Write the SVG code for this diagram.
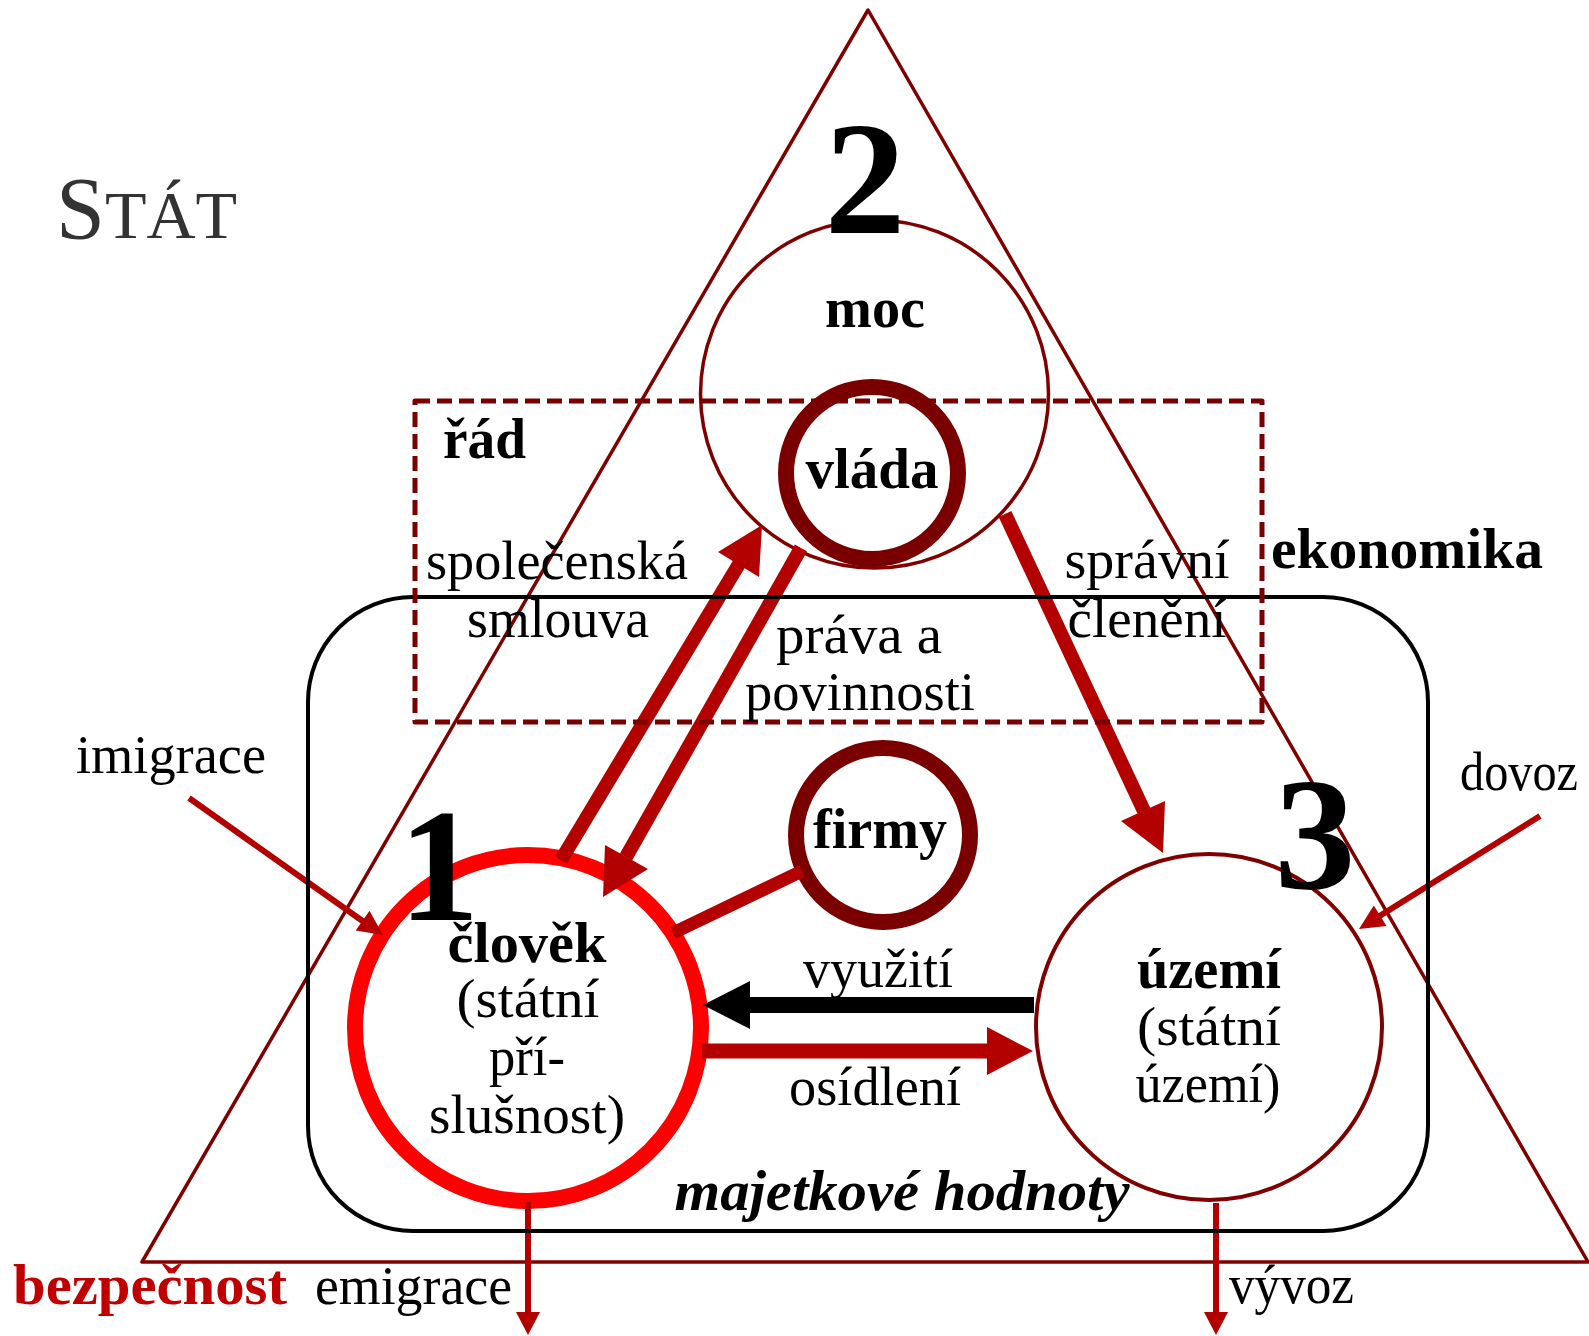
<svg xmlns="http://www.w3.org/2000/svg" width="1589" height="1336" viewBox="0 0 1589 1336">
<style>
text{font-family:"Liberation Serif","Times New Roman",serif;fill:#000}
.r{font-size:54px}
.b{font-size:56px;font-weight:bold}
.num{font-size:162px;font-weight:bold}
.m{text-anchor:middle}
.thin{fill:none;stroke:#800000;stroke-width:3.5}
.ring{fill:none;stroke:#7a0000;stroke-width:16}
.arr{stroke:#b30000;fill:none}
.head{fill:#b30000}
</style>
<rect width="1589" height="1336" fill="#fff"/>

<g id="stat">
<polygon points="868,10 142,1262 1588,1262" fill="none" stroke="#800000" stroke-width="3.5" stroke-linejoin="round"/>
<text x="56" y="238" style="font-size:88px;fill:#333">S<tspan style="font-size:68px">TÁT</tspan></text>
</g>

<g id="moc">
<circle cx="874.5" cy="394" r="174" class="thin"/>
<text x="875" y="327" class="b m" textLength="100" lengthAdjust="spacingAndGlyphs">moc</text>
<text x="865" y="233" class="num m">2</text>
</g>

<g id="vlada">
<circle cx="872" cy="473" r="86" class="ring"/>
<text x="872" y="488" class="b m" textLength="133" lengthAdjust="spacingAndGlyphs">vláda</text>
</g>

<g id="firmy">
<circle cx="883" cy="835" r="87" class="ring"/>
<text x="880" y="848" class="b m" textLength="134" lengthAdjust="spacingAndGlyphs">firmy</text>
</g>

<g id="clovek">
<circle cx="528" cy="1028" r="173" fill="none" stroke="#ff0000" stroke-width="16"/>
<text x="527" y="962" class="b m" textLength="159" lengthAdjust="spacingAndGlyphs">člověk</text>
<text x="528" y="1017" class="r m" textLength="143" lengthAdjust="spacingAndGlyphs">(státní</text>
<text x="527" y="1075" class="r m" textLength="76" lengthAdjust="spacingAndGlyphs">pří-</text>
<text x="527" y="1133" class="r m" textLength="196" lengthAdjust="spacingAndGlyphs">slušnost)</text>
</g>

<g id="uzemi">
<circle cx="1209" cy="1027" r="173" fill="none" stroke="#800000" stroke-width="4"/>
<text x="1209" y="988" class="b m" textLength="144" lengthAdjust="spacingAndGlyphs">území</text>
<text x="1209" y="1045" class="r m" textLength="144" lengthAdjust="spacingAndGlyphs">(státní</text>
<text x="1208" y="1102" class="r m" textLength="145" lengthAdjust="spacingAndGlyphs">území)</text>
</g>

<g id="connectors">
<line x1="561" y1="860" x2="739" y2="564" class="arr" stroke-width="14"/>
<polygon points="762,525 718,552 759,577" class="head"/>
<line x1="801" y1="548" x2="626" y2="857" class="arr" stroke-width="14"/>
<polygon points="603,897 605,845 648,869" class="head"/>
<line x1="1005" y1="514" x2="1144" y2="811" class="arr" stroke-width="14"/>
<polygon points="1163,853 1121,821 1165,801" class="head"/>
<line x1="802" y1="871" x2="673" y2="933" class="arr" stroke-width="13"/>
<line x1="1034" y1="1005" x2="748" y2="1005" stroke="#000" stroke-width="16"/>
<polygon points="703,1005 750,981 750,1029" fill="#000"/>
<line x1="702" y1="1051" x2="989" y2="1051" class="arr" stroke-width="15"/>
<polygon points="1033,1051 987,1027 987,1075" class="head"/>
<line x1="189" y1="798" x2="364" y2="922" class="arr" stroke-width="6"/>
<polygon points="383,935 355.7,930.4 369.5,910.8" class="head"/>
<line x1="1540" y1="816" x2="1378" y2="917" class="arr" stroke-width="6"/>
<polygon points="1359,929 1373.8,905.6 1386.5,926" class="head"/>
<line x1="528" y1="1202" x2="528" y2="1314" class="arr" stroke-width="6"/>
<polygon points="528,1335 516,1312 540,1312" class="head"/>
<line x1="1216" y1="1203" x2="1216" y2="1314" class="arr" stroke-width="6"/>
<polygon points="1216,1335 1204,1312 1228,1312" class="head"/>
</g>

<g id="ekonomika">
<rect x="308" y="597" width="1120" height="634" rx="105" ry="105" fill="none" stroke="#000" stroke-width="4"/>
<text x="1271" y="568" class="b" textLength="272" lengthAdjust="spacingAndGlyphs">ekonomika</text>
<text x="902" y="1210" class="b m" style="font-style:italic" textLength="455" lengthAdjust="spacingAndGlyphs">majetkové hodnoty</text>
</g>

<g id="rad">
<rect x="415" y="401" width="847" height="321" fill="none" stroke="#7a0000" stroke-width="5" stroke-dasharray="15 7" stroke-linejoin="round"/>
<text x="443" y="458" class="b" textLength="83" lengthAdjust="spacingAndGlyphs">řád</text>
</g>

<g id="labels">
<text x="557" y="579" class="r m" textLength="262" lengthAdjust="spacingAndGlyphs">společenská</text>
<text x="558" y="637" class="r m" textLength="182" lengthAdjust="spacingAndGlyphs">smlouva</text>
<text x="859" y="653" class="r m" textLength="166" lengthAdjust="spacingAndGlyphs">práva a</text>
<text x="860" y="710" class="r m" textLength="230" lengthAdjust="spacingAndGlyphs">povinnosti</text>
<text x="1147" y="578" class="r m" textLength="165" lengthAdjust="spacingAndGlyphs">správní</text>
<text x="1147" y="637" class="r m" textLength="159" lengthAdjust="spacingAndGlyphs">členění</text>
<text x="878" y="987" class="r m" textLength="150" lengthAdjust="spacingAndGlyphs">využití</text>
<text x="875" y="1105" class="r m" textLength="172" lengthAdjust="spacingAndGlyphs">osídlení</text>
<text x="76" y="773" class="r" textLength="190" lengthAdjust="spacingAndGlyphs">imigrace</text>
<text x="1460" y="790" class="r" textLength="118" lengthAdjust="spacingAndGlyphs">dovoz</text>
<text x="13" y="1304" class="b" style="fill:#c00000" textLength="274" lengthAdjust="spacingAndGlyphs">bezpečnost</text>
<text x="315" y="1304" class="r" textLength="197" lengthAdjust="spacingAndGlyphs">emigrace</text>
<text x="1229" y="1303" class="r" textLength="125" lengthAdjust="spacingAndGlyphs">vývoz</text>
<text x="439" y="920" class="num m">1</text>
<text x="1315" y="888" class="num m">3</text>
</g>
</svg>
